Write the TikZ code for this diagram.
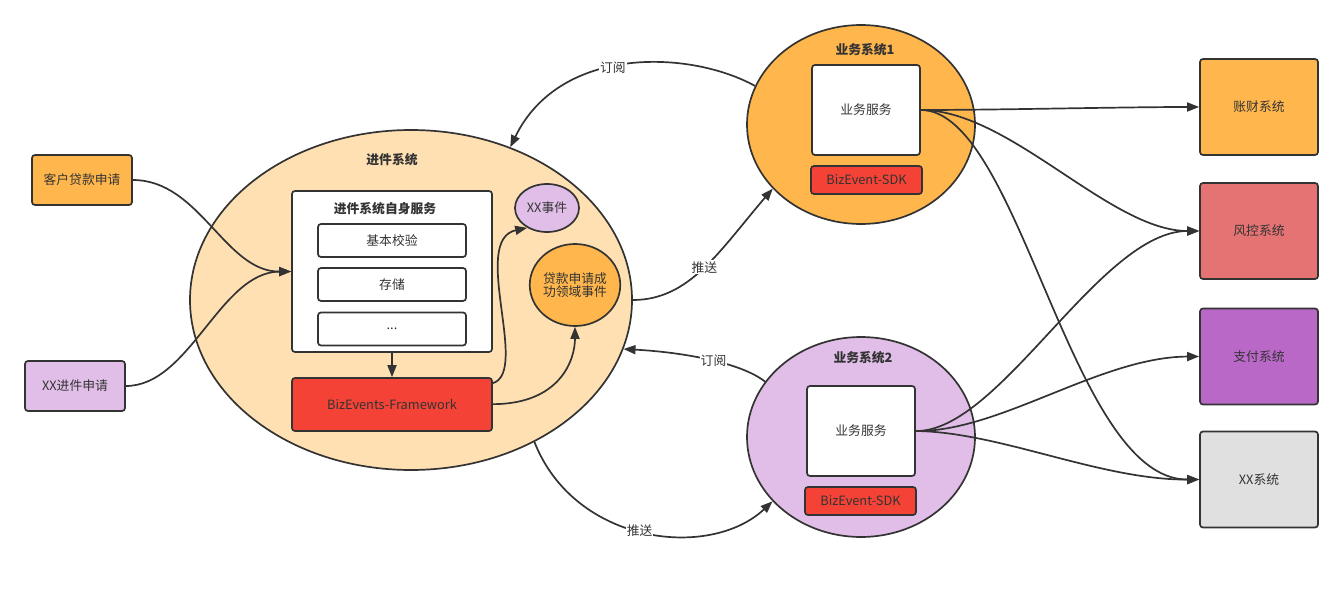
\documentclass[tikz,border=0pt]{standalone}
\usepackage{fontspec}
\setmainfont{Noto Sans CJK SC}
\usetikzlibrary{arrows.meta,shapes.geometric}
\definecolor{cLine}{HTML}{333333}
\definecolor{cPeach}{HTML}{FFE0B2}
\definecolor{cOrange}{HTML}{FFB74D}
\definecolor{cLilac}{HTML}{E1BEE7}
\definecolor{cRed}{HTML}{F44336}
\definecolor{cPink}{HTML}{E57373}
\definecolor{cPurple}{HTML}{BA68C8}
\definecolor{cGray}{HTML}{E0E0E0}
\tikzset{
  txt/.style={font=\fontsize{12.8}{15}\selectfont, text=cLine},
  ttl/.style={font=\fontsize{12.8}{15}\selectfont\bfseries, text=cLine},
  boxx/.style={draw=cLine, line width=1.7pt, rounded corners=3pt, inner sep=0pt, txt},
  ell/.style={ellipse, draw=cLine, line width=1.7pt, inner sep=0pt, txt},
  conn/.style={draw=cLine, line width=1.7pt, -{Triangle[length=12pt,width=9pt]}},
  lbl/.style={fill=white, inner sep=1pt, txt},
}
\begin{document}
\begin{tikzpicture}[x=1pt,y=-1pt]
\useasboundingbox (0,0) rectangle (1342,594);
% main system
\node[ell, fill=cPeach, minimum width=442pt, minimum height=340pt] (jj) at (411,300) {};
\node[ttl] (jjt) at (392,160) {进件系统};
\node[boxx, fill=white, minimum width=200pt, minimum height=161pt] (self) at (392,271.5) {};
\node[ttl] (selft) at (385,209) {进件系统自身服务};
\node[boxx, fill=white, minimum width=148pt, minimum height=33pt] (b1) at (392,240.5) {基本校验};
\node[boxx, fill=white, minimum width=148pt, minimum height=33pt] (b2) at (392,284.5) {存储};
\node[boxx, fill=white, minimum width=148pt, minimum height=33pt] (b3) at (392,329) {...};
\node[boxx, fill=cRed, minimum width=200pt, minimum height=53pt] (fw) at (392,404.5) {BizEvents-Framework};
\node[ell, fill=cLilac, minimum width=64pt, minimum height=48pt] (xxe) at (547,208) {XX事件};
\node[ell, fill=cOrange, minimum width=86pt, minimum height=82pt, align=center] (dk) at (575,285) {贷款申请成\\[-2pt]功领域事件};
% left inputs
\node[boxx, fill=cOrange, minimum width=100pt, minimum height=50pt] (khsq) at (82,180) {客户贷款申请};
\node[boxx, fill=cLilac, minimum width=100pt, minimum height=50pt] (xxjj) at (75,386) {XX进件申请};
% business systems
\node[ell, fill=cOrange, minimum width=228pt, minimum height=199pt] (ys1) at (861,124.5) {};
\node[ttl] (ys1t) at (865,50) {业务系统1};
\node[boxx, fill=white, minimum width=108pt, minimum height=90pt] (s1) at (866,110) {业务服务};
\node[boxx, fill=cRed, minimum width=111pt, minimum height=28pt] (sdk1) at (866.5,180) {BizEvent-SDK};
\node[ell, fill=cLilac, minimum width=228pt, minimum height=200pt] (ys2) at (861,437) {};
\node[ttl] (ys2t) at (863,358) {业务系统2};
\node[boxx, fill=white, minimum width=108pt, minimum height=90pt] (s2) at (861,431) {业务服务};
\node[boxx, fill=cRed, minimum width=111pt, minimum height=28pt] (sdk2) at (860.5,501) {BizEvent-SDK};
% right targets
\node[boxx, fill=cOrange, minimum width=118pt, minimum height=96pt] (zc) at (1259,107) {账财系统};
\node[boxx, fill=cPink, minimum width=118pt, minimum height=96pt] (fk) at (1259,231) {风控系统};
\node[boxx, fill=cPurple, minimum width=118pt, minimum height=96pt] (zf) at (1259,356.5) {支付系统};
\node[boxx, fill=cGray, minimum width=118pt, minimum height=96pt] (xxs) at (1259,479.5) {XX系统};
% connectors
\draw[conn] (khsq.east) .. controls (200,180) and (225,272) .. (self.west);
\draw[conn] (xxjj.east) .. controls (190,386) and (220,272) .. (self.west);
\draw[conn] (self.south) -- (fw.north);
\draw[conn] ([yshift=-6pt]fw.north east) .. controls (530,372) and (470,240) .. (xxe.225);
\draw[conn] ([yshift=-27pt]fw.north east) .. controls (560,404) and (575,360) .. (dk.south);
\draw[conn] (ys1.160) .. controls (690,50) and (560,45) .. node[lbl, pos=0.55] {订阅} (jj.57);
\draw[conn] (jj.east) .. controls (690,300) and (720,250) .. node[lbl, pos=0.5] {推送} (ys1.216);
\draw[conn] (ys2.150) .. controls (740,362) and (680,352) .. node[lbl, pos=0.45] {订阅} (jj.-13);
\draw[conn] (jj.-49) .. controls (575,545) and (710,560) .. node[lbl, pos=0.48] {推送} (ys2.216);
\draw[conn] (s1.east) .. controls (1000,110) and (1120,107) .. (zc.west);
\draw[conn] (s1.east) .. controls (1010,110) and (1110,231) .. (fk.west);
\draw[conn] (s1.east) .. controls (1020,110) and (1070,480) .. (xxs.west);
\draw[conn] (s2.east) .. controls (1000,432) and (1100,231) .. (fk.west);
\draw[conn] (s2.east) .. controls (1000,432) and (1100,357) .. (zf.west);
\draw[conn] (s2.east) .. controls (1000,432) and (1100,480) .. (xxs.west);
\end{tikzpicture}
\end{document}
